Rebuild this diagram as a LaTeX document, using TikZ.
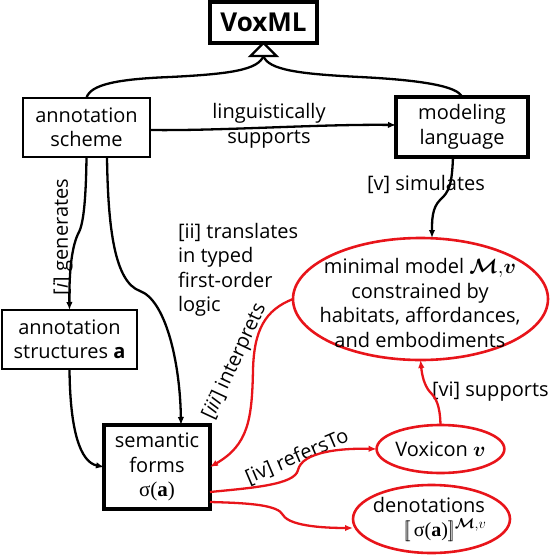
\documentclass[tikz,border=0pt]{standalone}
\usepackage{amsmath}
\usepackage{bm}
\usepackage[no-math]{fontspec}
\setmainfont{Open Sans}
\newfontfamily\serifg{Liberation Serif}
\usetikzlibrary{arrows.meta,shapes.geometric,calc}
\definecolor{vred}{RGB}{232,20,26}
\begin{document}
\begin{tikzpicture}[x=1pt,y=-1pt,
  every node/.style={font=\fontsize{20}{24.5}\selectfont, inner sep=0pt, outer sep=0pt},
  bbox/.style={draw, line width=2.3pt, align=center},
  tbox/.style={draw, line width=3.4pt, align=center},
  rell/.style={draw=vred, ellipse, line width=2.6pt},
  lbl/.style={align=center},
  conn/.style={line width=2.3pt, -{Latex[length=8pt,width=6.5pt]}},
  rconn/.style={conn, draw=vred, color=vred},
  gline/.style={line width=2.3pt}
]
\useasboundingbox (0,0) rectangle (552,558);

% nodes
\node[tbox, minimum width=107pt, minimum height=41pt, font=\fontsize{26}{30}\selectfont\bfseries] (vox) at (263.5,22.5) {VoxML};
\node[bbox, minimum width=127pt, minimum height=59pt] (as) at (86.5,127.5) {annotation\\scheme};
\node[tbox, minimum width=132pt, minimum height=60pt] (ml) at (462,127) {modeling\\language};
\node[bbox, minimum width=135pt, minimum height=59pt] (ast) at (69.5,339.5) {annotation\\structures \textbf{a}};
\node[tbox, minimum width=106pt, minimum height=84pt] (sf) at (157,467) {semantic\\forms\\{\serifg\fontsize{21}{24.5}\selectfont σ(\textbf{a})}};
\node[rell, minimum width=255pt, minimum height=122pt] (mm) at (420.5,299) {};
\node[lbl] (mmt) at (420,303) {minimal model $\bm{\mathcal{M}}{,}\bm{v}$\\constrained by\\habitats, affordances,\\and embodiments};
\node[rell, minimum width=115pt, minimum height=48pt] (vx) at (440.5,449) {Voxicon $\bm{v}$};
\node[rell, minimum width=157pt, minimum height=68pt] (den) at (431.5,519) {};
\node (dent1) at (429,505) {denotations};
\node (dent2) at (445,530) {$[\![\,\text{\serifg σ(\textbf{a})}]\!]^{\bm{\mathcal{M}}{,}v}$};

% labels
\node[lbl] (lsup) at (269,126) {linguistically\\supports};
\node (lsim) at (426,184) {[v] simulates};
\node[align=left, anchor=west] (ltr) at (178,270) {[ii] translates\\in typed\\first-order\\logic};
\node[rotate=90] (lgen) at (63,237) {[\textit{i}] generates};
\node[rotate=65] (lint) at (235,362) {[\textit{iii}] interprets};
\node[rotate=23] (lref) at (297,457) {[iv] refersTo};
\node[anchor=west] (lvi) at (432,392) {[vi] supports};

% generalization
\coordinate (tb) at ($(vox.south)+(0,13)$);
\draw[gline] (as.north) .. controls (90,84) and (120,79) .. (170,77) .. controls (230,74) and (258,70) .. (tb);
\draw[gline] (tb) .. controls (268,70) and (300,74) .. (360,77) .. controls (420,80) and (458,86) .. (ml.north);
\draw[gline, fill=white, line join=miter] (vox.south) -- ++(-13,13) -- ++(26,0) -- cycle;

% black connectors
\draw[conn] ([yshift=-2.5pt]as.east) .. controls (220,131) and (320,124) .. ([yshift=2pt]ml.west);
\draw[conn] (as.south) .. controls (86,195) and (84,222) .. (79,232) .. controls (72,245) and (69,270) .. (ast.north);
\draw[conn] ([xshift=20.5pt]as.south) .. controls (108,230) and (115,282) .. (140,291) .. controls (165,300) and (180,360) .. ([xshift=24pt]sf.north);
\draw[conn] (ast.south) .. controls (70,430) and (80,462) .. (sf.west);
\draw[conn] ([xshift=-9pt]ml.south) .. controls (452,185) and (449,192) .. (440,200) .. controls (432,208) and (432,220) .. ([xshift=11.5pt]mm.north);

% red connectors
\draw[rconn] (mm.west) .. controls (265,310) and (254,330) .. (253,370) .. controls (252,420) and (248,445) .. (sf.east);
\draw[rconn] (vx.north) .. controls (440,405) and (436,398) .. (430,392) .. controls (424,385) and (422,375) .. (mm.south);
\draw[rconn] ([yshift=-25pt]sf.east) .. controls (250,488) and (295,485) .. (298,470) .. controls (302,452) and (340,448) .. (vx.west);
\draw[rconn] ([yshift=-35pt]sf.east) .. controls (250,503) and (278,505) .. (283,515) .. controls (290,527) and (330,528) .. ([yshift=-9pt]den.west);
\end{tikzpicture}
\end{document}
